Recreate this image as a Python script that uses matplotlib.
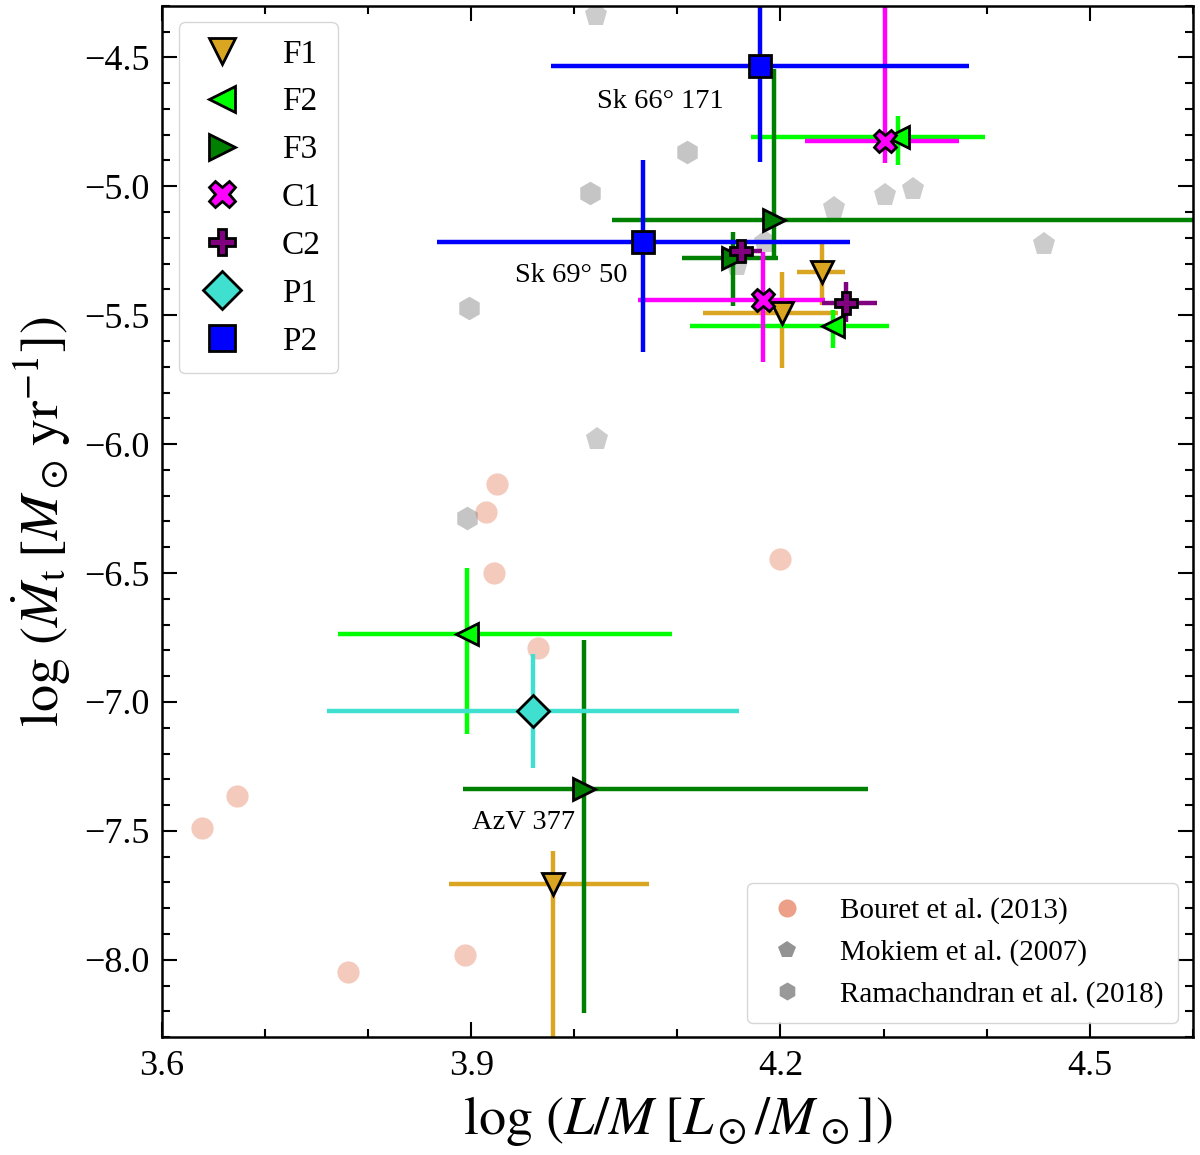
import matplotlib
matplotlib.use("Agg")
from matplotlib import pyplot as plt
from matplotlib.lines import Line2D
from matplotlib.ticker import MultipleLocator

plt.rcParams["font.family"] = ["Liberation Serif", "DejaVu Serif"]
plt.rcParams["mathtext.fontset"] = "stix"

# our sample: x = log(L/M), y = log(Mdot), errors (low, high)
f1_x = [3.979, 4.201, 4.240]
f1_y = [-7.705, -5.492, -5.333]
f1_xerr = [[0.101, 0.076, 0.024], [0.093, 0.055, 0.023]]
f1_yerr = [[0.70, 0.213, 0.128], [0.127, 0.159, 0.116]]

f2_x = [4.314, 4.251, 3.896]
f2_y = [-4.810, -5.543, -6.736]
f2_xerr = [[0.143, 0.139, 0.125], [0.084, 0.054, 0.199]]
f2_yerr = [[0.109, 0.085, 0.388], [0.081, 0.062, 0.255]]

f3_x = [4.194, 4.154, 4.009]
f3_y = [-5.132, -5.279, -7.337]
f3_xerr = [[0.157, 0.050, 0.117], [0.50, 0.044, 0.276]]
f3_yerr = [[0.147, 0.186, 0.868], [0.585, 0.101, 0.577]]

c1_x = [4.301, 4.183]
c1_y = [-4.826, -5.442]
c1_xerr = [[0.077, 0.121], [0.072, 0.060]]
c1_yerr = [[0.085, 0.240], [0.60, 0.186]]

c2_x = [4.162, 4.264]
c2_y = [-5.252, -5.453]
c2_xerr = [[0.020, 0.024], [0.020, 0.030]]
c2_yerr = [[0.020, 0.074], [0.020, 0.081]]

p1_x = [3.960]
p1_y = [-7.035]
p1_xerr = [[0.200], [0.200]]
p1_yerr = [[0.221], [0.221]]

p2_x = [4.180, 4.067]
p2_y = [-4.535, -5.217]
p2_xerr = [[0.203, 0.200], [0.203, 0.200]]
p2_yerr = [[0.370, 0.426], [0.370, 0.318]]

# literature samples
bouret_x = [3.925, 3.914, 3.922, 3.965, 4.200, 3.673, 3.639, 3.780, 3.894]
bouret_y = [-6.155, -6.264, -6.500, -6.791, -6.446, -7.364, -7.488, -8.047, -7.981]
mokiem_x = [4.021, 4.252, 4.301, 4.329, 4.456, 4.022, 4.185, 4.158]
mokiem_y = [-4.337, -5.085, -5.035, -5.012, -5.225, -5.981, -5.217, -5.305]
rama_x = [4.109, 4.015, 3.898, 3.896]
rama_y = [-4.868, -5.027, -5.473, -6.287]

names = ["Sk 66° 171", "Sk 69° 50", "AzV 377"]
names_x = [4.083, 3.997, 3.951]
names_y = [-4.67, -5.345, -7.469]

groups = [
    ("F1", "v", "goldenrod", f1_x, f1_y, f1_xerr, f1_yerr),
    ("F2", "<", "lime", f2_x, f2_y, f2_xerr, f2_yerr),
    ("F3", ">", "green", f3_x, f3_y, f3_xerr, f3_yerr),
    ("C1", "X", "magenta", c1_x, c1_y, c1_xerr, c1_yerr),
    ("C2", "P", "purple", c2_x, c2_y, c2_xerr, c2_yerr),
    ("P1", "D", "turquoise", p1_x, p1_y, p1_xerr, p1_yerr),
    ("P2", "s", "blue", p2_x, p2_y, p2_xerr, p2_yerr),
]

fig = plt.figure(figsize=(12, 11.55), dpi=100)
ax = fig.add_axes([0.135, 0.102, 0.859, 0.893])

ax.plot(bouret_x, bouret_y, "o", color="darksalmon", alpha=0.5, ms=16, mew=0, zorder=1)
ax.plot(mokiem_x, mokiem_y, "p", color="gray", alpha=0.4, ms=17, mew=0, zorder=1)
ax.plot(rama_x, rama_y, "h", color="gray", alpha=0.45, ms=17, mew=0, zorder=1)

handles = []
for lab, mk, col, x, y, xe, ye in groups:
    ax.errorbar(x, y, xerr=xe, yerr=ye, fmt=mk, color=col, ms=16, mec="black",
                mew=2, elinewidth=3.2, capsize=0)
    handles.append(Line2D([], [], ls="", marker=mk, color=col, ms=19, mec="black",
                          mew=2, label=lab))

for t, x, y in zip(names, names_x, names_y):
    ax.text(x, y, t, fontsize=20.5, ha="center", va="center")

ax.set_xlim(3.6, 4.6)
ax.set_ylim(-8.3, -4.3)
ax.xaxis.set_major_locator(MultipleLocator(0.3))
ax.xaxis.set_minor_locator(MultipleLocator(0.1))
ax.yaxis.set_major_locator(MultipleLocator(0.5))
ax.yaxis.set_minor_locator(MultipleLocator(0.1))
ax.tick_params(which="both", direction="in", top=True, right=True, labelsize=26, width=1.5)
ax.tick_params(which="major", length=11, pad=9)
ax.tick_params(which="minor", length=6)
for s in ax.spines.values():
    s.set_linewidth(1.8)

ax.set_xlabel(r"$\log\,(L/M\;[L_\odot/M_\odot])$", fontsize=39, labelpad=8)
ax.set_ylabel(r"$\log\,(\dot{M}_{\rm t}\;[M_\odot\,{\rm yr}^{-1}])$", fontsize=39, labelpad=8)

leg1 = ax.legend(handles=handles, loc="upper left", fontsize=24, handlelength=1.6,
                 handletextpad=1.0, labelspacing=0.52, borderpad=0.5)
ax.add_artist(leg1)

lit = [
    Line2D([], [], ls="", marker="o", color="darksalmon", alpha=0.9, ms=13, mew=0, label="Bouret et al. (2013)"),
    Line2D([], [], ls="", marker="p", color="gray", alpha=0.85, ms=13, mew=0, label="Mokiem et al. (2007)"),
    Line2D([], [], ls="", marker="h", color="gray", alpha=0.8, ms=13, mew=0, label="Ramachandran et al. (2018)"),
]
ax.legend(handles=lit, loc="lower right", fontsize=21, handlelength=1.74,
          handletextpad=0.95, labelspacing=0.51, borderpad=0.5)

fig.savefig("out.png", dpi=100)
